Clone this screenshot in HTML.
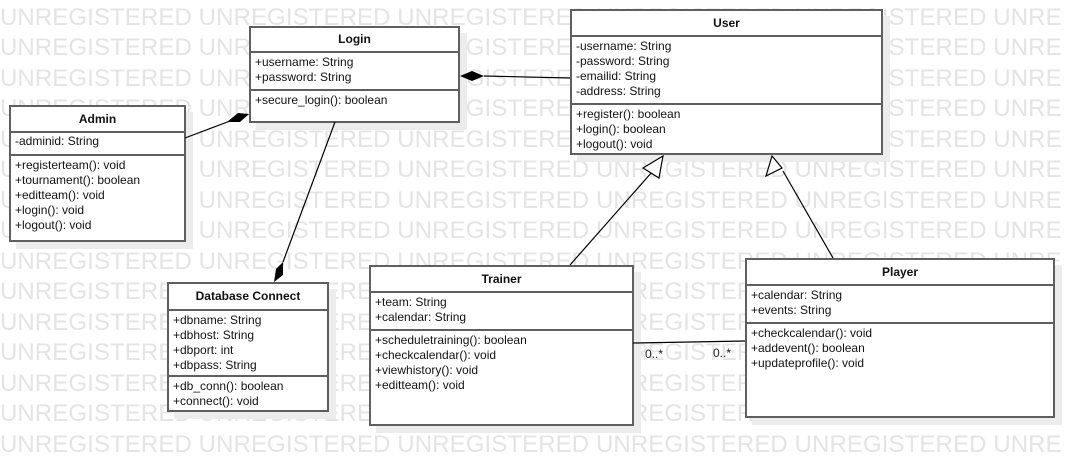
<!DOCTYPE html>
<html><head><meta charset="utf-8"><style>
*{margin:0;padding:0;box-sizing:border-box}
body{width:1066px;height:466px;background:#fff;position:relative;overflow:hidden;font-family:"Liberation Sans",Arial,sans-serif}
.wm{position:absolute;left:0;white-space:nowrap;font-size:24px;color:#e4e4e4;letter-spacing:0.1px;line-height:24px}
.box{position:absolute;background:#fff;border:2px solid #5f5f5f;box-shadow:7px 7px 0 #ececec;font-size:12px;color:#111}
.t{text-align:center;font-weight:bold;border-bottom:2px solid #5f5f5f}
.s{border-bottom:2px solid #5f5f5f;padding:2px 4px;line-height:15px}
.m{padding:2px 4px;line-height:15px}
svg{position:absolute;left:0;top:0}
.lab{position:absolute;font-size:12px;color:#222}
</style></head><body>
<div class="wm" style="top:6px">UNREGISTERED UNREGISTERED UNREGISTERED UNREGISTERED UNREGISTERED UNRE</div>
<div class="wm" style="top:36px">UNREGISTERED UNREGISTERED UNREGISTERED UNREGISTERED UNREGISTERED UNRE</div>
<div class="wm" style="top:67px">UNREGISTERED UNREGISTERED UNREGISTERED UNREGISTERED UNREGISTERED UNRE</div>
<div class="wm" style="top:97px">UNREGISTERED UNREGISTERED UNREGISTERED UNREGISTERED UNREGISTERED UNRE</div>
<div class="wm" style="top:128px">UNREGISTERED UNREGISTERED UNREGISTERED UNREGISTERED UNREGISTERED UNRE</div>
<div class="wm" style="top:158px">UNREGISTERED UNREGISTERED UNREGISTERED UNREGISTERED UNREGISTERED UNRE</div>
<div class="wm" style="top:189px">UNREGISTERED UNREGISTERED UNREGISTERED UNREGISTERED UNREGISTERED UNRE</div>
<div class="wm" style="top:219px">UNREGISTERED UNREGISTERED UNREGISTERED UNREGISTERED UNREGISTERED UNRE</div>
<div class="wm" style="top:250px">UNREGISTERED UNREGISTERED UNREGISTERED UNREGISTERED UNREGISTERED UNRE</div>
<div class="wm" style="top:280px">UNREGISTERED UNREGISTERED UNREGISTERED UNREGISTERED UNREGISTERED UNRE</div>
<div class="wm" style="top:311px">UNREGISTERED UNREGISTERED UNREGISTERED UNREGISTERED UNREGISTERED UNRE</div>
<div class="wm" style="top:341px">UNREGISTERED UNREGISTERED UNREGISTERED UNREGISTERED UNREGISTERED UNRE</div>
<div class="wm" style="top:372px">UNREGISTERED UNREGISTERED UNREGISTERED UNREGISTERED UNREGISTERED UNRE</div>
<div class="wm" style="top:402px">UNREGISTERED UNREGISTERED UNREGISTERED UNREGISTERED UNREGISTERED UNRE</div>
<div class="wm" style="top:433px">UNREGISTERED UNREGISTERED UNREGISTERED UNREGISTERED UNREGISTERED UNRE</div>

<div class="box" style="left:249px;top:26px;width:211px;height:97px">
<div class="t" style="height:25px;line-height:23px">Login</div>
<div class="s" style="height:38px">+username: String<br>+password: String</div>
<div class="m">+secure_login(): boolean</div></div>

<div class="box" style="left:570px;top:9px;width:313px;height:146px">
<div class="t" style="height:26px;line-height:24px">User</div>
<div class="s" style="height:68px">-username: String<br>-password: String<br>-emailid: String<br>-address: String</div>
<div class="m">+register(): boolean<br>+login(): boolean<br>+logout(): void</div></div>

<div class="box" style="left:9px;top:105px;width:177px;height:137px">
<div class="t" style="height:26px;line-height:24px">Admin</div>
<div class="s" style="height:23px;padding-top:1px">-adminid: String</div>
<div class="m">+registerteam(): void<br>+tournament(): boolean<br>+editteam(): void<br>+login(): void<br>+logout(): void</div></div>

<div class="box" style="left:167px;top:282px;width:162px;height:130px">
<div class="t" style="height:27px;line-height:25px">Database Connect</div>
<div class="s" style="height:66px">+dbname: String<br>+dbhost: String<br>+dbport: int<br>+dbpass: String</div>
<div class="m">+db_conn(): boolean<br>+connect(): void</div></div>

<div class="box" style="left:369px;top:265px;width:265px;height:161px">
<div class="t" style="height:26px;line-height:24px">Trainer</div>
<div class="s" style="height:38px">+team: String<br>+calendar: String</div>
<div class="m">+scheduletraining(): boolean<br>+checkcalendar(): void<br>+viewhistory(): void<br>+editteam(): void</div></div>

<div class="box" style="left:745px;top:258px;width:310px;height:160px">
<div class="t" style="height:26px;line-height:24px">Player</div>
<div class="s" style="height:38px">+calendar: String<br>+events: String</div>
<div class="m">+checkcalendar(): void<br>+addevent(): boolean<br>+updateprofile(): void</div></div>

<svg width="1066" height="466">
<g stroke="#000" stroke-width="1.2" fill="none">
<line x1="484" y1="76" x2="570" y2="78"/>
<line x1="185" y1="138" x2="230" y2="121"/>
<line x1="335" y1="122" x2="283" y2="262"/>
<line x1="570" y1="265" x2="652" y2="172"/>
<line x1="833" y1="258" x2="783" y2="171"/>
<line x1="633" y1="343" x2="745" y2="341"/>
</g>
<polygon points="460,76 472,71 484,76 472,81" fill="#000"/>
<polygon points="249,114 238,113 227,122 240,122" fill="#000"/>
<polygon points="274,282 276,269 283,262 283,275" fill="#000"/>
<polygon points="663,156 643,168 659,178" fill="#fff" stroke="#000" stroke-width="1.2"/>
<polygon points="772,156 766,176 782,168" fill="#fff" stroke="#000" stroke-width="1.2"/>
</svg>
<div class="lab" style="left:645px;top:347px">0..*</div>
<div class="lab" style="left:713px;top:346px">0..*</div>
</body></html>
